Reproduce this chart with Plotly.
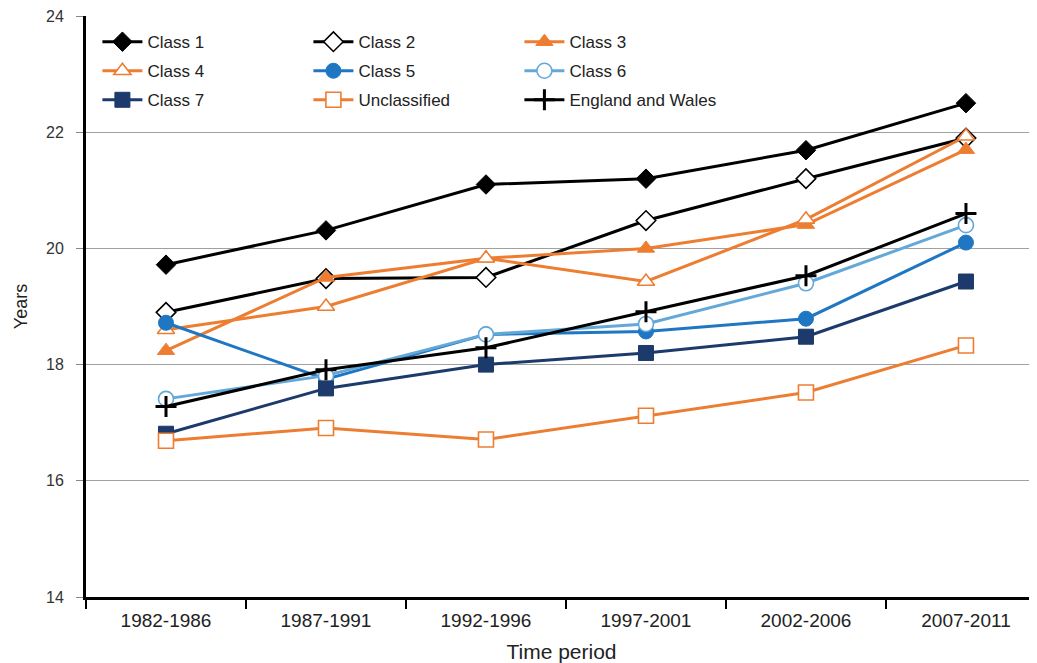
import plotly.graph_objects as go

periods = ["1982-1986", "1987-1991", "1992-1996", "1997-2001", "2002-2006", "2007-2011"]

class_1 = [19.72, 20.31, 21.10, 21.20, 21.69, 22.50]
class_2 = [18.90, 19.48, 19.50, 20.48, 21.20, 21.90]
class_3 = [18.24, 19.50, 19.83, 20.00, 20.41, 21.70]
class_4 = [18.60, 19.00, 19.83, 19.43, 20.50, 21.93]
class_5 = [18.72, 17.75, 18.52, 18.57, 18.79, 20.10]
class_6 = [17.41, 17.81, 18.52, 18.70, 19.40, 20.40]
class_7 = [16.81, 17.59, 18.00, 18.20, 18.48, 19.43]
unclassified = [16.69, 16.91, 16.71, 17.12, 17.52, 18.33]
england_wales = [17.28, 17.91, 18.29, 18.91, 19.53, 20.60]

BLACK = "#000000"
ORANGE = "#ED7D31"
BLUE = "#1F77C4"
LIGHT_BLUE = "#63A8D8"
NAVY = "#1C3A6B"
FONT = "Liberation Sans, Arial, sans-serif"
TEXT = "#222222"

# (name, values, colour, symbol, filled, legend row)
series = [
    ("Class 1", class_1, BLACK, "diamond", True, "legend"),
    ("Class 2", class_2, BLACK, "diamond", False, "legend"),
    ("Class 3", class_3, ORANGE, "triangle-up", True, "legend"),
    ("Class 4", class_4, ORANGE, "triangle-up", False, "legend2"),
    ("Class 5", class_5, BLUE, "circle", True, "legend2"),
    ("Class 6", class_6, LIGHT_BLUE, "circle", False, "legend2"),
    ("Class 7", class_7, NAVY, "square", True, "legend3"),
    ("Unclassified", unclassified, ORANGE, "square", False, "legend3"),
    ("England and Wales", england_wales, BLACK, "cross-thin", True, "legend3"),
]

fig = go.Figure()
for name, vals, col, sym, filled, leg in series:
    if sym == "cross-thin":
        marker = dict(symbol=sym, size=15, line=dict(color=col, width=3))
    elif filled:
        marker = dict(symbol=sym, size=15, color=col, line=dict(color=col, width=1))
    else:
        marker = dict(symbol=sym, size=15, color="white", line=dict(color=col, width=1.6))
    fig.add_trace(go.Scatter(
        x=periods, y=vals, name=name, mode="lines+markers",
        line=dict(color=col, width=3), marker=marker, legend=leg,
    ))

leg_common = dict(orientation="h", x=0.012, xanchor="left", yanchor="middle",
                  entrywidth=156, entrywidthmode="pixels", bgcolor="rgba(0,0,0,0)",
                  font=dict(family=FONT, size=17, color=TEXT), itemwidth=40)

# page body has an 8px margin, so the figure is 8px smaller than the window
fig.update_layout(
    width=1029, height=655,
    margin=dict(l=78, r=0, t=8, b=66),
    paper_bgcolor="white", plot_bgcolor="white",
    font=dict(family=FONT, color=TEXT),
    legend=dict(y=0.955, **leg_common),
    legend2=dict(y=0.905, **leg_common),
    legend3=dict(y=0.855, **leg_common),
    xaxis=dict(
        type="category", range=[-0.5, 5.444], automargin=False,
        showline=True, linecolor="black", linewidth=3,
        ticks="outside", tickson="boundaries", ticklen=9, tickcolor="black", tickwidth=1.5,
        showgrid=False, tickfont=dict(size=19, color=TEXT), ticklabelstandoff=4,
        title=dict(text="Time period", font=dict(size=21, color=TEXT), standoff=15),
    ),
    yaxis=dict(
        range=[14, 24], dtick=2, tick0=14, automargin=False,
        showline=True, linecolor="black", linewidth=3,
        ticks="outside", ticklen=7, tickcolor="#888888", tickwidth=1,
        showgrid=True, gridcolor="#A0A0A0", gridwidth=1.2, zeroline=False,
        tickfont=dict(size=16, color="#333333"), ticklabelstandoff=9,
        ticklabeloverflow="allow",
        title=dict(text="Years", font=dict(size=18, color=TEXT), standoff=14),
    ),
)

fig.write_html("out.html")
